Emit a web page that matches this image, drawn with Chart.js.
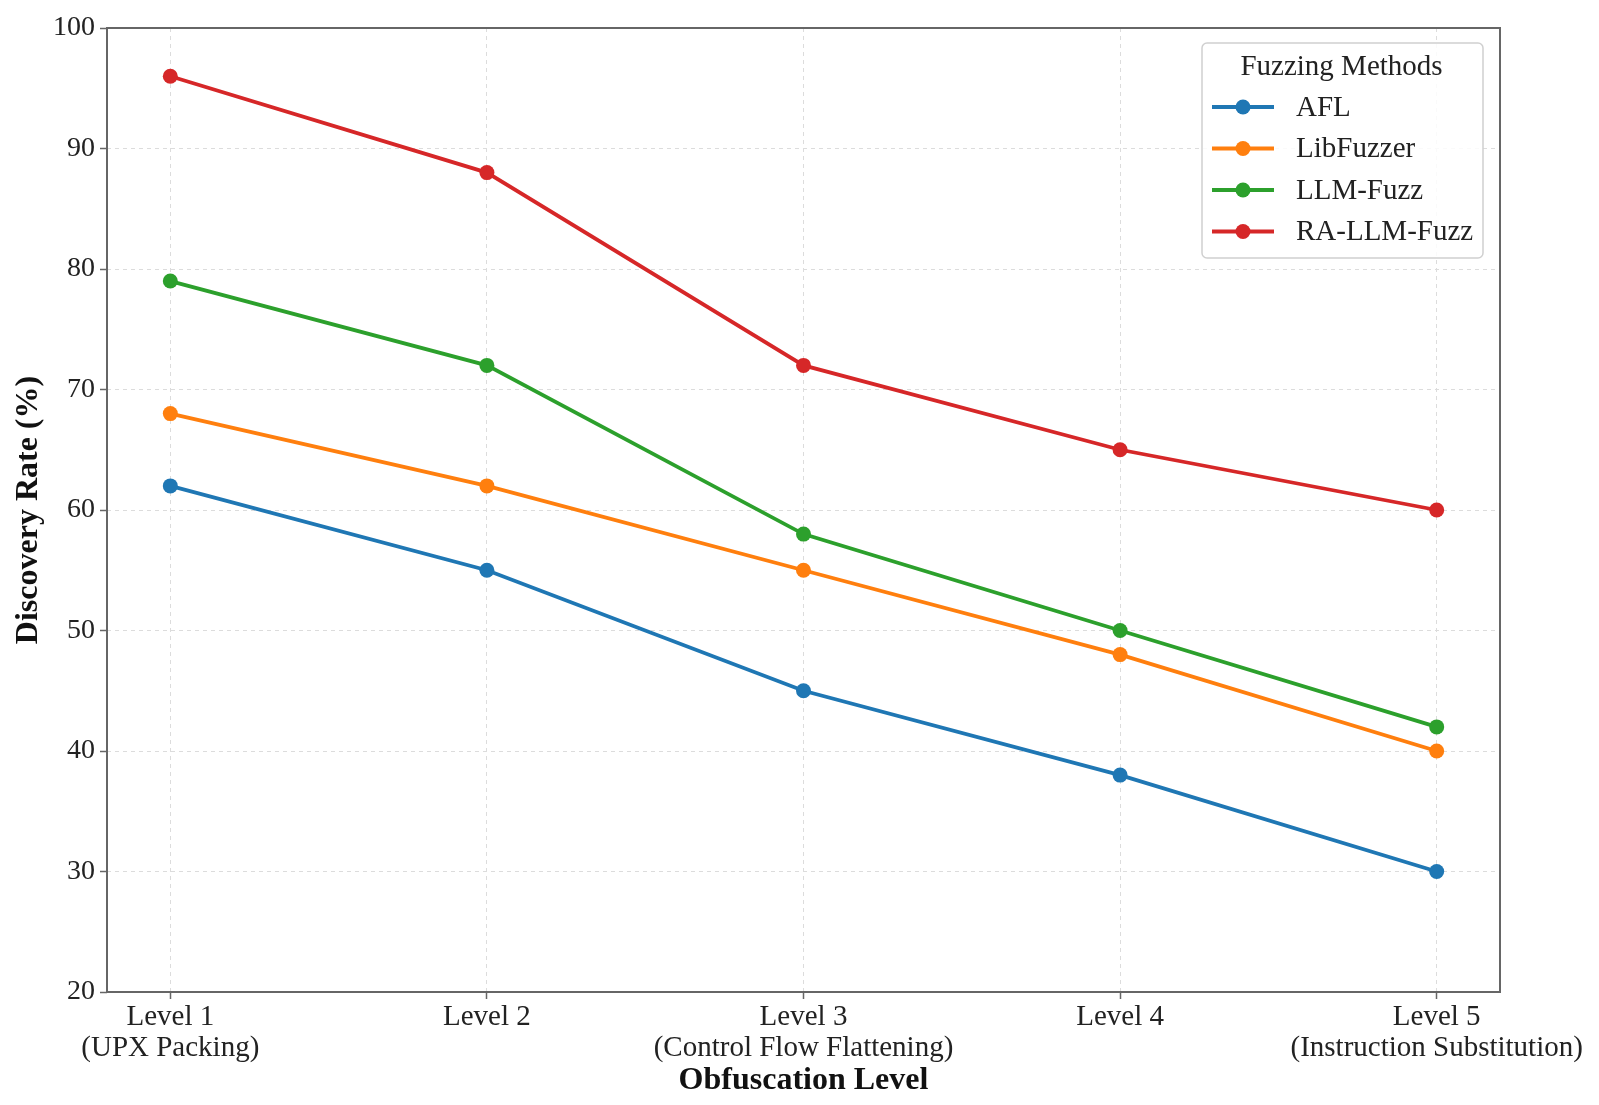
<!DOCTYPE html>
<html>
<head>
<meta charset="utf-8">
<script src="https://cdn.jsdelivr.net/npm/chart.js@4/dist/chart.umd.min.js"></script>
<style>
  html, body { margin: 0; padding: 0; background: #fff; overflow: hidden; }
  #wrap { width: 1599px; height: 1105px; }
</style>
</head>
<body>
<div id="wrap"><canvas id="chart"></canvas></div>
<script>
// Data (percent)
const levels = [
    ['Level 1', '(UPX Packing)'],
    ['Level 2'],
    ['Level 3', '(Control Flow Flattening)'],
    ['Level 4'],
    ['Level 5', '(Instruction Substitution)']
];
const methods = ['AFL', 'LibFuzzer', 'LLM-Fuzz', 'RA-LLM-Fuzz'];
const aflRates = [62, 55, 45, 38, 30];
const libFuzzerRates = [68, 62, 55, 48, 40];
const llmFuzzRates = [79, 72, 58, 50, 42];
const raLlmFuzzRates = [96, 88, 72, 65, 60];
const colors = ['#1f77b4', '#ff7f0e', '#2ca02c', '#d62728'];

const FONT = '"Liberation Serif", "Times New Roman", serif';

function toPoints(values) {
    return values.map((v, i) => ({ x: i, y: v }));
}

const allRates = [aflRates, libFuzzerRates, llmFuzzRates, raLlmFuzzRates];
const datasets = methods.map((name, i) => ({
    label: name,
    data: toPoints(allRates[i]),
    borderColor: colors[i],
    backgroundColor: colors[i],
    borderWidth: 3.8,
    pointRadius: 7.5,
    pointHoverRadius: 7.5,
    pointBorderWidth: 0,
    tension: 0
}));

// frame around the plot area, like matplotlib spines
const framePlugin = {
    id: 'frame',
    afterDatasetsDraw(chart) {
        const { ctx, chartArea: a } = chart;
        ctx.save();
        ctx.strokeStyle = '#666';
        ctx.lineWidth = 2;
        ctx.strokeRect(a.left, a.top, a.right - a.left, a.bottom - a.top);
        ctx.restore();
    }
};

// legend with title and line+marker handles
const legendPlugin = {
    id: 'mplLegend',
    afterDraw(chart) {
        const ctx = chart.ctx;
        const x0 = 1202, y0 = 43, w = 281, h = 215;
        ctx.save();
        ctx.fillStyle = 'rgba(255,255,255,0.85)';
        ctx.strokeStyle = '#d0d0d0';
        ctx.lineWidth = 1.5;
        ctx.beginPath();
        ctx.roundRect(x0, y0, w, h, 5);
        ctx.fill();
        ctx.stroke();

        ctx.fillStyle = '#222';
        ctx.font = '29px ' + FONT;
        ctx.textAlign = 'center';
        ctx.textBaseline = 'middle';
        ctx.fillText('Fuzzing Methods', x0 + w / 2 - 1, 67);

        ctx.textAlign = 'left';
        chart.data.datasets.forEach((ds, i) => {
            const y = 107 + i * 41.5;
            ctx.strokeStyle = ds.borderColor;
            ctx.lineWidth = 3.8;
            ctx.beginPath();
            ctx.moveTo(1212, y);
            ctx.lineTo(1274, y);
            ctx.stroke();
            ctx.fillStyle = ds.borderColor;
            ctx.beginPath();
            ctx.arc(1243, y, 7.5, 0, Math.PI * 2);
            ctx.fill();
            ctx.fillStyle = '#222';
            ctx.fillText(ds.label, 1296, y + 1);
        });
        ctx.restore();
    }
};

new Chart(document.getElementById('chart').getContext('2d'), {
    type: 'line',
    data: { datasets },
    plugins: [framePlugin, legendPlugin],
    options: {
        responsive: true,
        maintainAspectRatio: false,
        animation: false,
        layout: { padding: { left: 0, top: 28, right: 99, bottom: 0 } },
        plugins: {
            legend: { display: false },
            tooltip: { enabled: false }
        },
        scales: {
            x: {
                type: 'linear',
                min: -0.2,
                max: 4.2,
                afterBuildTicks(scale) {
                    scale.ticks = levels.map((_, i) => ({ value: i }));
                },
                afterFit(scale) { scale.height = 113; },
                ticks: {
                    callback: (v) => levels[v],
                    color: '#222',
                    font: { family: FONT, size: 29, lineHeight: 1.07 },
                    padding: 3,
                    maxRotation: 0,
                    autoSkip: false
                },
                grid: {
                    color: '#dcdcdc',
                    lineWidth: 1,
                    drawTicks: true,
                    tickLength: 7,
                    tickColor: '#666',
                    tickWidth: 1.5,
                    tickBorderDash: [0, 0]
                },
                border: { display: false, dash: [4, 4] },
                title: {
                    display: true,
                    text: 'Obfuscation Level',
                    color: '#111',
                    font: { family: FONT, size: 32, weight: 'bold' },
                    padding: { top: 0, bottom: 5 }
                }
            },
            y: {
                min: 20,
                max: 100,
                afterFit(scale) { scale.width = 107; },
                ticks: {
                    stepSize: 10,
                    color: '#222',
                    font: { family: FONT, size: 28 },
                    padding: 5
                },
                grid: {
                    color: '#dcdcdc',
                    lineWidth: 1,
                    tickLength: 7,
                    tickColor: '#666',
                    tickWidth: 1.5,
                    tickBorderDash: [0, 0]
                },
                border: { display: false, dash: [4, 4] },
                title: {
                    display: true,
                    text: 'Discovery Rate (%)',
                    color: '#111',
                    font: { family: FONT, size: 32, weight: 'bold' },
                    padding: { top: 10, bottom: 0 }
                }
            }
        }
    }
});
</script>
</body>
</html>
